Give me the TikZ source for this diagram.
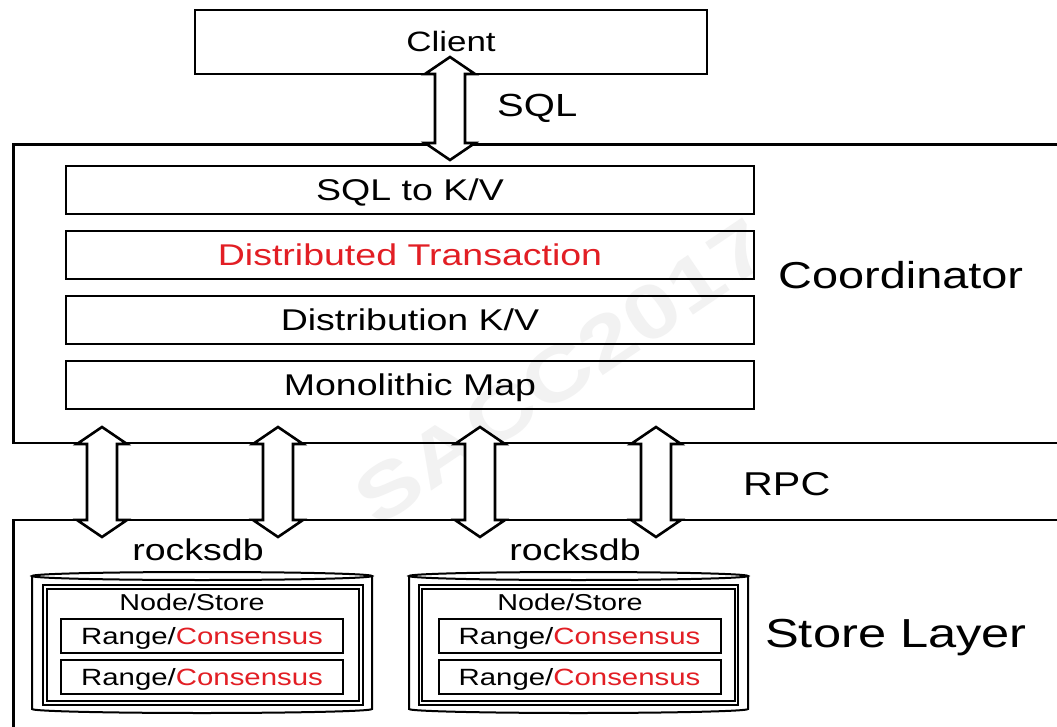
\documentclass[tikz,border=0pt]{standalone}
\usepackage{fontspec}
\setmainfont{Liberation Sans}[FakeStretch=1.25]
\usetikzlibrary{calc}
\definecolor{txtred}{RGB}{226,30,36}

% block arrow with two heads, #1 upper tip, #2 lower tip
\newcommand{\blockarrow}[2]{%
	\filldraw[bigarr] (#1) -- ($(#1)+(25,17)$) -- ($(#1)+(15,17)$) -- ($(#2)+(15,-17)$)
		-- ($(#2)+(25,-17)$) -- (#2) -- ($(#2)+(-25,-17)$) -- ($(#2)+(-15,-17)$)
		-- ($(#1)+(-15,17)$) -- ($(#1)+(-25,17)$) -- cycle;}

\begin{document}
\begin{tikzpicture}[x=1pt,y=-1pt,
	thickline/.style={line width=2.6pt},
	bigarr/.style={draw=black, fill=white, line width=2.6pt, line join=miter},
	layerbox/.style={draw, line width=2.6pt, minimum width=688pt, minimum height=48pt,
		inner sep=0pt, text height=21.5pt, text depth=0pt, font=\fontsize{30}{36}\selectfont},
	rangebox/.style={draw, line width=2pt, minimum width=282pt, minimum height=34pt,
		inner sep=0pt, text height=16.8pt, text depth=0pt, font=\fontsize{23.5}{28}\selectfont},
	storebox/.style={draw, double, double distance=1.4pt, line width=2pt,
		minimum width=316pt, minimum height=116pt, inner sep=0pt},
	cylline/.style={line width=2pt},
	biglabel/.style={anchor=base west, inner sep=0pt},
	watermark/.style={text=black!5, rotate=34, font=\bfseries\fontsize{76}{80}\selectfont}]
	\clip (0,0) rectangle (1057,727);
	\fill[white] (0,0) rectangle (1057,727);
	
	\node[watermark] (mark) at (562,372) {SACC2017};
	
	%outer boxes
	\draw[thickline] (1090,144.5) -- (13.5,144.5) -- (13.5,443) -- (1090,443);	%coordinator
	\draw[thickline] (1090,520) -- (13.5,520) -- (13.5,740);			%store layer
	
	%client
	\node[draw, line width=2.6pt, minimum width=512pt, minimum height=64pt, inner sep=0pt,
		text height=20pt, text depth=0pt, font=\fontsize{28}{34}\selectfont] (client) at (451,42) {Client};
	
	%arrows
	\coordinate (sqltop) at (450,57);
	\coordinate (sqlbot) at (450,160);
	\blockarrow{sqltop}{sqlbot}
	\node[biglabel, font=\fontsize{32}{38}\selectfont] (sql) at (497,117) {SQL};
	
	\foreach \i/\x in {1/102,2/278,3/480,4/656} {
		\coordinate (rpc\i top) at (\x,427);
		\coordinate (rpc\i bot) at (\x,537);
		\blockarrow{rpc\i top}{rpc\i bot}
	}
	\node[biglabel, font=\fontsize{33}{38}\selectfont] (rpc) at (743,495) {RPC};
	
	%coordinator layers
	\node[layerbox] (sqlkv) at (410,190) {SQL to K/V};
	\node[layerbox, text=txtred] (dtxn) at (410,255) {Distributed Transaction};
	\node[layerbox] (distkv) at (410,320) {Distribution K/V};
	\node[layerbox] (monomap) at (410,385) {Monolithic Map};
	\node[biglabel, font=\fontsize{37.5}{44}\selectfont] (coordlabel) at (778,289) {Coordinator};
	
	%store layer, left
	\node[anchor=base, inner sep=0pt, font=\fontsize{30}{36}\selectfont] (rocksL) at (198,560) {rocksdb};
	\draw[cylline] (202,576) ellipse [x radius=170, y radius=4];
	\draw[cylline] (32,576) -- (32,709) arc[start angle=180, end angle=0, x radius=170, y radius=4] -- (372,576);
	\node[storebox] (nodeL) at (203,645) {};
	\node[anchor=base, inner sep=0pt, font=\fontsize{23}{28}\selectfont] (nodeLtxt) at (192,610) {Node/Store};
	\node[rangebox] (rangeL1) at (202,636) {Range/\textcolor{txtred}{Consensus}};
	\node[rangebox] (rangeL2) at (202,677) {Range/\textcolor{txtred}{Consensus}};
	
	%store layer, right
	\node[anchor=base, inner sep=0pt, font=\fontsize{30}{36}\selectfont] (rocksR) at (575,560) {rocksdb};
	\draw[cylline] (578.5,576) ellipse [x radius=169.5, y radius=4];
	\draw[cylline] (409,576) -- (409,709) arc[start angle=180, end angle=0, x radius=169.5, y radius=4] -- (748,576);
	\node[storebox] (nodeR) at (578.5,645) {};
	\node[anchor=base, inner sep=0pt, font=\fontsize{23}{28}\selectfont] (nodeRtxt) at (570,610) {Node/Store};
	\node[rangebox] (rangeR1) at (579.5,636) {Range/\textcolor{txtred}{Consensus}};
	\node[rangebox] (rangeR2) at (579.5,677) {Range/\textcolor{txtred}{Consensus}};
	
	\node[biglabel, font=\fontsize{40.5}{46}\selectfont] (storelabel) at (765,647) {Store Layer};
\end{tikzpicture}
\end{document}
